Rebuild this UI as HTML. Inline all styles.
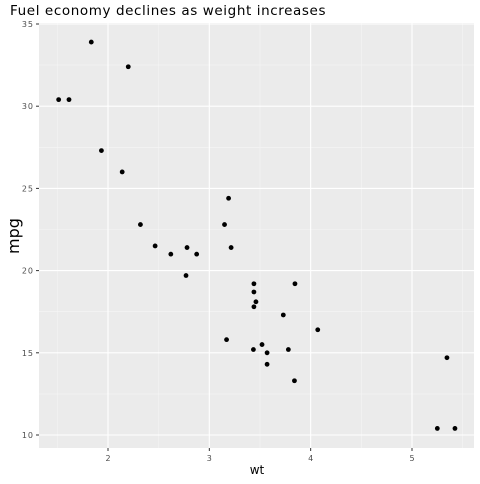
<!DOCTYPE html>
<html><head><meta charset="utf-8"><style>
body{margin:0;background:#fff;font-family:"DejaVu Sans","Liberation Sans",sans-serif}
</style></head><body>
<svg id="c" width="480" height="480" xmlns="http://www.w3.org/2000/svg" font-family="DejaVu Sans, Liberation Sans, sans-serif">
<text x="10" y="15" font-size="13.5" letter-spacing="0.6" fill="#000">Fuel economy declines as weight increases</text>
<rect x="39" y="23" width="435" height="425" fill="#ebebeb"/>
<g id="grid"></g><g id="pts"></g><g id="axes"></g>
<text x="257" y="474" font-size="12" fill="#000" text-anchor="middle">wt</text>
<text transform="translate(19,236) rotate(-90)" font-size="16" fill="#000" text-anchor="middle">mpg</text>
</svg>
<script>
const wt=[2.62,2.875,2.32,3.215,3.44,3.46,3.57,3.19,3.15,3.44,3.44,4.07,3.73,3.78,5.25,5.424,5.345,2.2,1.615,1.835,2.465,3.52,3.435,3.84,3.845,1.935,2.14,1.513,3.17,2.77,3.57,2.78];
const mpg=[21,21,22.8,21.4,18.7,18.1,14.3,24.4,22.8,19.2,17.8,16.4,17.3,15.2,10.4,10.4,14.7,32.4,30.4,33.9,21.5,15.5,15.2,13.3,19.2,27.3,26,30.4,15.8,19.7,15,21.4];
const xTicks=[2,3,4,5];
const yTicks=[10,15,20,25,30,35];
const yLabels=["10","15","20","25","30","35"];
const NS="http://www.w3.org/2000/svg";
function X(v){return 108+(v-2)*101.33;}
function Y(v){return 435-(v-10)*16.44;}
function mk(t,a,p){const e=document.createElementNS(NS,t);for(const k in a)e.setAttribute(k,a[k]);p.appendChild(e);return e;}
const g=document.getElementById('grid'),pp=document.getElementById('pts'),ax=document.getElementById('axes');
const xm=[1.5,2.5,3.5,4.5,5.5],ym=[12.5,17.5,22.5,27.5,32.5];
xm.forEach(v=>{const e=mk('line',{x1:X(v),x2:X(v),y1:23,y2:448,stroke:'#f5f5f5','stroke-width':0.6},g);

});
ym.forEach(v=>{const e=mk('line',{x1:39,x2:474,y1:Y(v),y2:Y(v),stroke:'#f5f5f5','stroke-width':0.6},g);

});
xTicks.forEach(v=>{const e=mk('line',{x1:X(v),x2:X(v),y1:23,y2:448,stroke:'#fff','stroke-width':1.1},g);


const t=mk('line',{x1:X(v),x2:X(v),y1:448,y2:451,stroke:'#333','stroke-width':1},ax);


const l=mk('text',{x:X(v),y:461,'font-size':8,fill:'#4d4d4d','text-anchor':'middle'},ax);l.textContent=v;

});
yTicks.forEach((v,i)=>{const e=mk('line',{x1:39,x2:474,y1:Y(v),y2:Y(v),stroke:'#fff','stroke-width':1.1},g);


const t=mk('line',{x1:36,x2:39,y1:Y(v),y2:Y(v),stroke:'#333','stroke-width':1},ax);


const l=mk('text',{x:34,y:Y(v)+3,'font-size':8,fill:'#4d4d4d','text-anchor':'end','letter-spacing':'1'},ax);l.textContent=yLabels[i];

});
wt.forEach((w,i)=>{const c=mk('circle',{cx:X(w),cy:Y(mpg[i]),r:2.4,fill:'#000'},pp);

});
</script>
</body></html>
